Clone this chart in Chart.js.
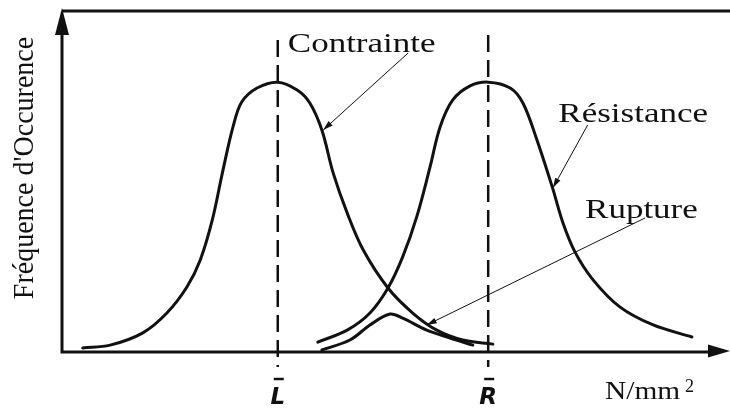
<!DOCTYPE html>
<html>
<head>
<meta charset="utf-8">
<script src="https://cdn.jsdelivr.net/npm/chart.js@4.4.0/dist/chart.umd.min.js"></script>
<style>
html, body { margin: 0; padding: 0; background: #fff; }
#wrap { width: 730px; height: 408px; }
</style>
</head>
<body>
<div id="wrap"><canvas id="stressChart"></canvas></div>
<script>
// Values (x: stress, y: frequency, both on a 0-100 scale)
const contrainteX = [3.1, 7.2, 12.1, 15.7, 18.7, 20.7, 22.5, 24.1, 25.6, 26.9, 29.2, 32.3, 35.2, 37.1, 38.9, 40.6, 42.7, 45.1, 48.8, 52.5, 56.1, 60.0, 64.5];
const contrainteY = [1.2, 2.0, 5.6, 11.4, 19.0, 26.9, 38.6, 53.2, 65.8, 73.1, 77.2, 78.9, 76.6, 72.8, 64.9, 52.3, 40.6, 29.8, 18.7, 11.4, 6.4, 3.5, 2.3];

const resistanceX = [38.3, 42.7, 46.1, 48.8, 51.0, 53.1, 55.1, 56.6, 58.5, 61.1, 63.8, 67.1, 69.0, 71.1, 73.4, 75.0, 76.8, 79.5, 83.5, 88.5, 94.3];
const resistanceY = [2.9, 6.4, 11.4, 18.7, 27.8, 39.5, 54.1, 65.8, 73.7, 77.8, 78.9, 77.2, 72.8, 62.0, 48.2, 37.7, 29.2, 21.1, 13.2, 7.9, 4.4];

const ruptureX = [38.9, 43.1, 46.1, 49.1, 51.0, 54.6, 58.1, 61.5];
const ruptureY = [0.6, 3.5, 7.9, 11.1, 9.9, 6.4, 4.1, 2.0];

// mean stress and mean strength
const meanX = [32.3, 63.8];
const meanLabels = ['L', 'R'];
const meanTop = [91.2, 92.7];

// curve names and their leader lines
const curveLabels = ['Contrainte', 'Résistance', 'Rupture'];
const labelX = [33.8, 74.3, 78.3];
const labelY = [87.7, 67.3, 39.2];
const leaderFromX = [51.8, 78.7, 87.3];
const leaderFromY = [87.4, 66.4, 39.2];
const leaderToX = [39.1, 73.5, 54.6];
const leaderToY = [64.9, 48.0, 7.9];

const ink = '#111';

const toPoints = (xs, ys) => xs.map((x, i) => ({ x: x, y: ys[i] }));

const stretchText = (ctx, text, x, y, sx) => {
    ctx.save();
    ctx.translate(x, y);
    ctx.scale(sx, 1);
    ctx.fillText(text, 0, 0);
    ctx.restore();
};

const arrowHead = (ctx, tipX, tipY, fromX, fromY, len, half) => {
    const a = Math.atan2(tipY - fromY, tipX - fromX);
    ctx.beginPath();
    ctx.moveTo(tipX, tipY);
    ctx.lineTo(tipX - len * Math.cos(a) + half * Math.sin(a), tipY - len * Math.sin(a) - half * Math.cos(a));
    ctx.lineTo(tipX - len * Math.cos(a) - half * Math.sin(a), tipY - len * Math.sin(a) + half * Math.cos(a));
    ctx.closePath();
    ctx.fill();
};

// axes, frame and mean lines under the curves
const framePlugin = {
    id: 'frame',
    beforeDatasetsDraw(chart) {
        const { ctx, chartArea, scales } = chart;
        const x = scales.x, y = scales.y;
        const y0 = y.getPixelForValue(0);
        const x0 = x.getPixelForValue(0);
        ctx.save();
        ctx.strokeStyle = ink;
        ctx.fillStyle = ink;

        // dashed mean lines
        ctx.lineWidth = 2.5;
        ctx.setLineDash([17, 8]);
        meanX.forEach((m, i) => {
            const px = x.getPixelForValue(m);
            ctx.beginPath();
            ctx.moveTo(px, y.getPixelForValue(meanTop[i]));
            ctx.lineTo(px, y0 + 15);
            ctx.stroke();
        });
        ctx.setLineDash([]);

        // axes
        ctx.lineWidth = 3;
        ctx.beginPath();
        ctx.moveTo(x0, chartArea.top + 20);
        ctx.lineTo(x0, y0);
        ctx.lineTo(chartArea.right - 15, y0);
        ctx.stroke();
        // top frame line
        ctx.beginPath();
        ctx.moveTo(x0, chartArea.top + 1);
        ctx.lineTo(chartArea.right, chartArea.top + 1);
        ctx.stroke();
        // arrow heads
        arrowHead(ctx, x0, chartArea.top - 2, x0, chartArea.top + 40, 27, 7);
        arrowHead(ctx, chartArea.right, y0 - 1, chartArea.right - 40, y0 - 1, 22, 6.5);
        ctx.restore();
    },
    afterDatasetsDraw(chart) {
        const { ctx, scales } = chart;
        const x = scales.x, y = scales.y;
        ctx.save();
        ctx.fillStyle = ink;
        ctx.strokeStyle = ink;

        // leader lines with small arrows
        ctx.lineWidth = 1;
        curveLabels.forEach((_, i) => {
            const fx = x.getPixelForValue(leaderFromX[i]), fy = y.getPixelForValue(leaderFromY[i]);
            const tx = x.getPixelForValue(leaderToX[i]), ty = y.getPixelForValue(leaderToY[i]);
            ctx.beginPath();
            ctx.moveTo(fx, fy);
            ctx.lineTo(tx, ty);
            ctx.stroke();
            arrowHead(ctx, tx, ty, fx, fy, 10, 3);
        });

        // curve names
        ctx.font = '28px "Liberation Serif", "DejaVu Serif", serif';
        ctx.textBaseline = 'alphabetic';
        ctx.textAlign = 'left';
        curveLabels.forEach((t, i) => {
            stretchText(ctx, t, x.getPixelForValue(labelX[i]), y.getPixelForValue(labelY[i]), 1.25);
        });

        // axis titles
        ctx.save();
        ctx.translate(33, 168);
        ctx.rotate(-Math.PI / 2);
        ctx.scale(1, 1.08);
        ctx.textAlign = 'center';
        ctx.fillText("Fréquence d'Occurence", 0, 0);
        ctx.restore();

        ctx.font = '26px "Liberation Serif", "DejaVu Serif", serif';
        stretchText(ctx, 'N/mm', 605, 399, 1.13);
        ctx.font = '18px "Liberation Serif", "DejaVu Serif", serif';
        ctx.fillText('2', 685, 392);

        // mean labels with an overbar
        ctx.font = 'italic bold 23px "DejaVu Sans", sans-serif';
        ctx.textAlign = 'center';
        ctx.lineWidth = 2.5;
        meanX.forEach((m, i) => {
            const px = x.getPixelForValue(m);
            ctx.fillText(meanLabels[i], px, 404);
            ctx.beginPath();
            ctx.moveTo(px - 4, 379);
            ctx.lineTo(px + 6, 379);
            ctx.stroke();
        });
        ctx.restore();
    }
};

const curveStyle = {
    borderColor: ink,
    borderWidth: 3,
    pointRadius: 0,
    fill: false,
    tension: 0.35,
    borderCapStyle: 'round'
};

const stressChart = new Chart(document.getElementById('stressChart').getContext('2d'), {
    type: 'line',
    data: {
        datasets: [
            Object.assign({ label: 'Contrainte', data: toPoints(contrainteX, contrainteY) }, curveStyle),
            Object.assign({ label: 'Résistance', data: toPoints(resistanceX, resistanceY) }, curveStyle),
            Object.assign({ label: 'Rupture', data: toPoints(ruptureX, ruptureY) }, curveStyle)
        ]
    },
    options: {
        responsive: true,
        maintainAspectRatio: false,
        animation: false,
        devicePixelRatio: 1,
        layout: { padding: { left: 62, right: 0, top: 10, bottom: 56 } },
        plugins: {
            legend: { display: false },
            tooltip: { enabled: false }
        },
        scales: {
            x: { type: 'linear', min: 0, max: 100, display: false },
            y: { type: 'linear', min: 0, max: 100, display: false }
        }
    },
    plugins: [framePlugin]
});
</script>
</body>
</html>
